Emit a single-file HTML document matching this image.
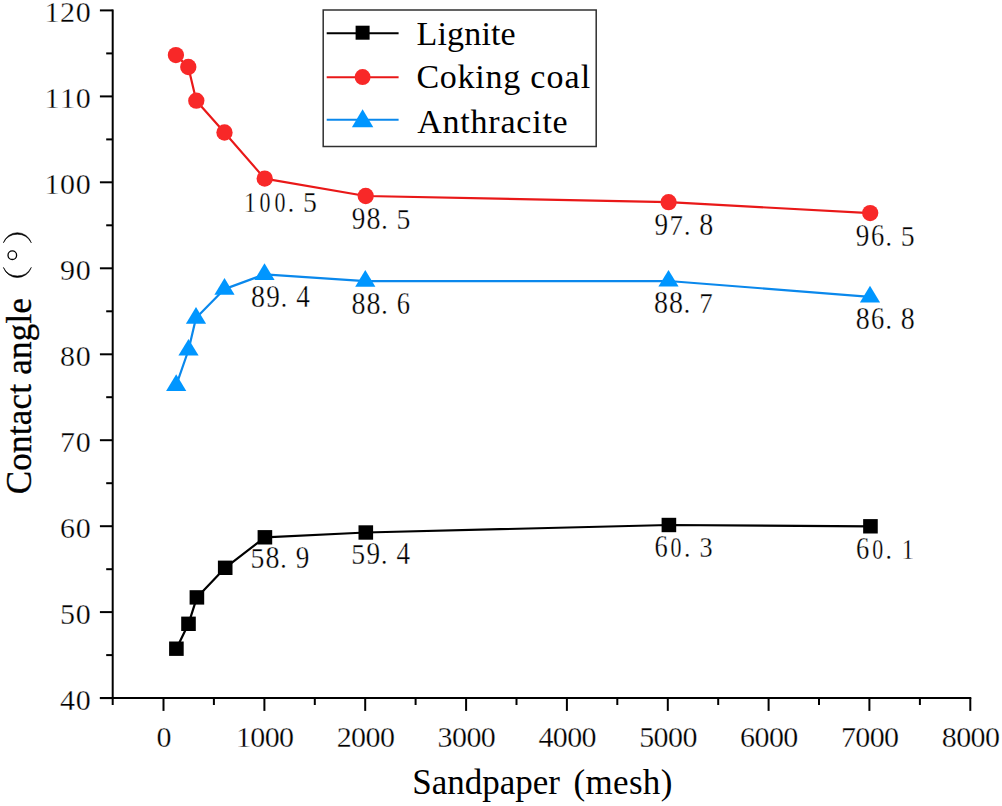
<!DOCTYPE html>
<html><head><meta charset="utf-8"><title>Contact angle vs sandpaper mesh</title>
<style>
html,body{margin:0;padding:0;background:#fff;}
body{width:1002px;height:806px;overflow:hidden;}
svg{display:block;}
text{font-family:"Liberation Serif",serif;fill:#000;font-kerning:none;}
.tick{font-size:30px;stroke:#fff;stroke-width:0.3px;}
.lab{font-size:30.5px;stroke:#fff;stroke-width:0.3px;}
.leg{font-size:34px;}
.ttl{font-size:35px;}
</style></head><body>
<svg width="1002" height="806" viewBox="0 0 1002 806">
<rect x="0" y="0" width="1002" height="806" fill="#fff"/>
<g stroke="#000" stroke-width="2" fill="none" stroke-linecap="butt">
<line x1="112.7" y1="9.4" x2="112.7" y2="705.0"/>
<line x1="99.9" y1="698.1" x2="971.3" y2="698.1"/>
<line x1="163.5" y1="698.1" x2="163.5" y2="710.9"/>
<line x1="213.9" y1="698.1" x2="213.9" y2="705.0"/>
<line x1="264.4" y1="698.1" x2="264.4" y2="710.9"/>
<line x1="314.8" y1="698.1" x2="314.8" y2="705.0"/>
<line x1="365.2" y1="698.1" x2="365.2" y2="710.9"/>
<line x1="415.6" y1="698.1" x2="415.6" y2="705.0"/>
<line x1="466.1" y1="698.1" x2="466.1" y2="710.9"/>
<line x1="516.5" y1="698.1" x2="516.5" y2="705.0"/>
<line x1="566.9" y1="698.1" x2="566.9" y2="710.9"/>
<line x1="617.3" y1="698.1" x2="617.3" y2="705.0"/>
<line x1="667.8" y1="698.1" x2="667.8" y2="710.9"/>
<line x1="718.2" y1="698.1" x2="718.2" y2="705.0"/>
<line x1="768.6" y1="698.1" x2="768.6" y2="710.9"/>
<line x1="819.0" y1="698.1" x2="819.0" y2="705.0"/>
<line x1="869.4" y1="698.1" x2="869.4" y2="710.9"/>
<line x1="919.9" y1="698.1" x2="919.9" y2="705.0"/>
<line x1="970.3" y1="698.1" x2="970.3" y2="710.9"/>
<line x1="99.9" y1="698.1" x2="112.7" y2="698.1"/>
<line x1="106.2" y1="655.1" x2="112.7" y2="655.1"/>
<line x1="99.9" y1="612.1" x2="112.7" y2="612.1"/>
<line x1="106.2" y1="569.2" x2="112.7" y2="569.2"/>
<line x1="99.9" y1="526.2" x2="112.7" y2="526.2"/>
<line x1="106.2" y1="483.2" x2="112.7" y2="483.2"/>
<line x1="99.9" y1="440.2" x2="112.7" y2="440.2"/>
<line x1="106.2" y1="397.2" x2="112.7" y2="397.2"/>
<line x1="99.9" y1="354.3" x2="112.7" y2="354.3"/>
<line x1="106.2" y1="311.3" x2="112.7" y2="311.3"/>
<line x1="99.9" y1="268.3" x2="112.7" y2="268.3"/>
<line x1="106.2" y1="225.3" x2="112.7" y2="225.3"/>
<line x1="99.9" y1="182.3" x2="112.7" y2="182.3"/>
<line x1="106.2" y1="139.4" x2="112.7" y2="139.4"/>
<line x1="99.9" y1="96.4" x2="112.7" y2="96.4"/>
<line x1="106.2" y1="53.4" x2="112.7" y2="53.4"/>
<line x1="99.9" y1="10.4" x2="112.7" y2="10.4"/>
</g>
<g class="tick" text-anchor="middle">
<text x="163.8" y="747" letter-spacing="-0.6">0</text>
<text x="264.7" y="747" letter-spacing="-0.6">1000</text>
<text x="365.5" y="747" letter-spacing="-0.6">2000</text>
<text x="466.4" y="747" letter-spacing="-0.6">3000</text>
<text x="567.2" y="747" letter-spacing="-0.6">4000</text>
<text x="668.0" y="747" letter-spacing="-0.6">5000</text>
<text x="768.9" y="747" letter-spacing="-0.6">6000</text>
<text x="869.7" y="747" letter-spacing="-0.6">7000</text>
<text x="970.6" y="747" letter-spacing="-0.6">8000</text>
</g>
<g class="tick" text-anchor="end">
<text x="91.3" y="710.0" letter-spacing="0.6">40</text>
<text x="91.3" y="624.0" letter-spacing="0.6">50</text>
<text x="91.3" y="538.1" letter-spacing="0.6">60</text>
<text x="91.3" y="452.1" letter-spacing="0.6">70</text>
<text x="91.3" y="366.2" letter-spacing="0.6">80</text>
<text x="91.3" y="280.2" letter-spacing="0.6">90</text>
<text x="91.3" y="194.2" letter-spacing="0.6">100</text>
<text x="91.3" y="108.3" letter-spacing="0.6">110</text>
<text x="91.3" y="22.3" letter-spacing="0.6">120</text>
</g>
<text class="ttl" x="412.2" y="794" letter-spacing="0.0">Sandpaper</text>
<text class="ttl" x="573.6" y="794" letter-spacing="0.3">(mesh)</text>
<text class="ttl" transform="translate(31.3,494.3) rotate(-90)" x="0" y="0" letter-spacing="0.25" stroke="#000" stroke-width="0.35">Contact angle</text>
<g fill="#000" stroke="#000" stroke-width="0.6" stroke-linejoin="round">
<path d="M3.4,267.4 A14.7,14.7 0 0 0 31.3,267.4 A15.6,15.6 0 0 1 3.4,267.4 Z"/>
<path d="M3.4,242.8 A14.7,14.7 0 0 1 31.3,242.8 A15.6,15.6 0 0 0 3.4,242.8 Z"/>
</g>
<circle cx="12.3" cy="255.2" r="4.3" fill="none" stroke="#000" stroke-width="1.3"/>
<polyline fill="none" stroke="#000000" stroke-width="2.2" stroke-linejoin="round" points="176.4,648.7 188.5,623.8 196.9,597.4 225.2,567.8 264.9,537.3 365.8,532.5 668.9,525.0 870.5,526.3"/>
<rect x="169.10" y="641.50" width="14.6" height="14.4" fill="#000000"/>
<rect x="181.20" y="616.60" width="14.6" height="14.4" fill="#000000"/>
<rect x="189.60" y="590.20" width="14.6" height="14.4" fill="#000000"/>
<rect x="217.90" y="560.60" width="14.6" height="14.4" fill="#000000"/>
<rect x="257.60" y="530.10" width="14.6" height="14.4" fill="#000000"/>
<rect x="358.50" y="525.30" width="14.6" height="14.4" fill="#000000"/>
<rect x="661.60" y="517.80" width="14.6" height="14.4" fill="#000000"/>
<rect x="863.15" y="519.10" width="14.6" height="14.4" fill="#000000"/>
<polyline fill="none" stroke="#e91818" stroke-width="2.2" stroke-linejoin="round" points="175.9,55.1 188.3,67.0 196.3,100.7 224.5,132.5 264.7,178.6 365.7,196.0 668.6,202.2 870.2,213.1"/>
<circle cx="175.9" cy="55.1" r="8.15" fill="#f82828"/>
<circle cx="188.3" cy="67.0" r="8.15" fill="#f82828"/>
<circle cx="196.3" cy="100.7" r="8.15" fill="#f82828"/>
<circle cx="224.5" cy="132.5" r="8.15" fill="#f82828"/>
<circle cx="264.7" cy="178.6" r="8.15" fill="#f82828"/>
<circle cx="365.7" cy="196.0" r="8.15" fill="#f82828"/>
<circle cx="668.6" cy="202.2" r="8.15" fill="#f82828"/>
<circle cx="870.2" cy="213.1" r="8.15" fill="#f82828"/>
<polyline fill="none" stroke="#0a88ec" stroke-width="2.2" stroke-linejoin="round" points="176.2,385.3 188.5,350.0 196.0,318.1 224.5,289.1 264.5,274.4 365.3,281.2 668.5,281.0 870.0,296.8"/>
<polygon points="176.2,374.2 186.3,390.9 166.1,390.9" fill="#0096ff"/>
<polygon points="188.5,338.9 198.6,355.6 178.4,355.6" fill="#0096ff"/>
<polygon points="196.0,307.0 206.1,323.7 185.9,323.7" fill="#0096ff"/>
<polygon points="224.5,278.0 234.6,294.7 214.4,294.7" fill="#0096ff"/>
<polygon points="264.5,263.3 274.6,280.0 254.4,280.0" fill="#0096ff"/>
<polygon points="365.3,270.1 375.4,286.8 355.2,286.8" fill="#0096ff"/>
<polygon points="668.5,269.9 678.6,286.6 658.4,286.6" fill="#0096ff"/>
<polygon points="870.0,285.7 880.1,302.4 859.9,302.4" fill="#0096ff"/>
<g class="lab">
<text text-anchor="middle" transform="translate(249.90,211.7) scale(0.79,1)" x="0" y="0">1</text>
<text text-anchor="middle" transform="translate(264.90,211.7) scale(0.72,1)" x="0" y="0">0</text>
<text text-anchor="middle" transform="translate(279.90,211.7) scale(0.72,1)" x="0" y="0">0</text>
<text transform="translate(287.70,211.7) scale(0.84,0.88)" x="0" y="0">.</text>
<text text-anchor="middle" transform="translate(309.90,211.7) scale(0.91,1)" x="0" y="0">5</text>
</g>
<g class="lab">
<text text-anchor="middle" transform="translate(358.50,228.6) scale(0.89,1)" x="0" y="0">9</text>
<text text-anchor="middle" transform="translate(373.50,228.6) scale(0.92,1)" x="0" y="0">8</text>
<text transform="translate(381.30,228.6) scale(0.84,0.88)" x="0" y="0">.</text>
<text text-anchor="middle" transform="translate(403.50,228.6) scale(0.91,1)" x="0" y="0">5</text>
</g>
<g class="lab">
<text text-anchor="middle" transform="translate(661.20,234.7) scale(0.89,1)" x="0" y="0">9</text>
<text text-anchor="middle" transform="translate(676.20,234.7) scale(0.88,1)" x="0" y="0">7</text>
<text transform="translate(684.00,234.7) scale(0.84,0.88)" x="0" y="0">.</text>
<text text-anchor="middle" transform="translate(706.20,234.7) scale(0.92,1)" x="0" y="0">8</text>
</g>
<g class="lab">
<text text-anchor="middle" transform="translate(862.60,245.8) scale(0.89,1)" x="0" y="0">9</text>
<text text-anchor="middle" transform="translate(877.60,245.8) scale(0.87,1)" x="0" y="0">6</text>
<text transform="translate(885.40,245.8) scale(0.84,0.88)" x="0" y="0">.</text>
<text text-anchor="middle" transform="translate(907.60,245.8) scale(0.91,1)" x="0" y="0">5</text>
</g>
<g class="lab">
<text text-anchor="middle" transform="translate(258.00,306.6) scale(0.92,1)" x="0" y="0">8</text>
<text text-anchor="middle" transform="translate(273.00,306.6) scale(0.89,1)" x="0" y="0">9</text>
<text transform="translate(280.80,306.6) scale(0.84,0.88)" x="0" y="0">.</text>
<text text-anchor="middle" transform="translate(303.00,306.6) scale(0.89,1)" x="0" y="0">4</text>
</g>
<g class="lab">
<text text-anchor="middle" transform="translate(358.50,313.9) scale(0.92,1)" x="0" y="0">8</text>
<text text-anchor="middle" transform="translate(373.50,313.9) scale(0.92,1)" x="0" y="0">8</text>
<text transform="translate(381.30,313.9) scale(0.84,0.88)" x="0" y="0">.</text>
<text text-anchor="middle" transform="translate(403.50,313.9) scale(0.87,1)" x="0" y="0">6</text>
</g>
<g class="lab">
<text text-anchor="middle" transform="translate(661.00,312.8) scale(0.92,1)" x="0" y="0">8</text>
<text text-anchor="middle" transform="translate(676.00,312.8) scale(0.92,1)" x="0" y="0">8</text>
<text transform="translate(683.80,312.8) scale(0.84,0.88)" x="0" y="0">.</text>
<text text-anchor="middle" transform="translate(706.00,312.8) scale(0.88,1)" x="0" y="0">7</text>
</g>
<g class="lab">
<text text-anchor="middle" transform="translate(862.70,328.5) scale(0.92,1)" x="0" y="0">8</text>
<text text-anchor="middle" transform="translate(877.70,328.5) scale(0.87,1)" x="0" y="0">6</text>
<text transform="translate(885.50,328.5) scale(0.84,0.88)" x="0" y="0">.</text>
<text text-anchor="middle" transform="translate(907.70,328.5) scale(0.92,1)" x="0" y="0">8</text>
</g>
<g class="lab">
<text text-anchor="middle" transform="translate(257.50,567.8) scale(0.91,1)" x="0" y="0">5</text>
<text text-anchor="middle" transform="translate(272.50,567.8) scale(0.92,1)" x="0" y="0">8</text>
<text transform="translate(280.30,567.8) scale(0.84,0.88)" x="0" y="0">.</text>
<text text-anchor="middle" transform="translate(302.50,567.8) scale(0.89,1)" x="0" y="0">9</text>
</g>
<g class="lab">
<text text-anchor="middle" transform="translate(358.30,563.5) scale(0.91,1)" x="0" y="0">5</text>
<text text-anchor="middle" transform="translate(373.30,563.5) scale(0.89,1)" x="0" y="0">9</text>
<text transform="translate(381.10,563.5) scale(0.84,0.88)" x="0" y="0">.</text>
<text text-anchor="middle" transform="translate(403.30,563.5) scale(0.89,1)" x="0" y="0">4</text>
</g>
<g class="lab">
<text text-anchor="middle" transform="translate(661.10,556.8) scale(0.87,1)" x="0" y="0">6</text>
<text text-anchor="middle" transform="translate(676.10,556.8) scale(0.72,1)" x="0" y="0">0</text>
<text transform="translate(683.90,556.8) scale(0.84,0.88)" x="0" y="0">.</text>
<text text-anchor="middle" transform="translate(706.10,556.8) scale(0.86,1)" x="0" y="0">3</text>
</g>
<g class="lab">
<text text-anchor="middle" transform="translate(862.70,558.6) scale(0.87,1)" x="0" y="0">6</text>
<text text-anchor="middle" transform="translate(877.70,558.6) scale(0.72,1)" x="0" y="0">0</text>
<text transform="translate(885.50,558.6) scale(0.84,0.88)" x="0" y="0">.</text>
<text text-anchor="middle" transform="translate(907.70,558.6) scale(0.79,1)" x="0" y="0">1</text>
</g>
<rect x="323.2" y="10.0" width="273.0" height="136.5" fill="#fff" stroke="#303030" stroke-width="1.5"/>
<line x1="326.7" y1="33.3" x2="398.6" y2="33.3" stroke="#000000" stroke-width="2"/>
<rect x="355.6" y="25.7" width="14" height="14" fill="#000000"/>
<line x1="326.7" y1="77.2" x2="398.6" y2="77.2" stroke="#e91818" stroke-width="2"/>
<circle cx="362.6" cy="77.1" r="8.0" fill="#f82828"/>
<line x1="326.7" y1="119.8" x2="398.6" y2="119.8" stroke="#0a88ec" stroke-width="2"/>
<polygon points="362.6,109.3 373.3,127.2 351.9,127.2" fill="#0096ff"/>
<text class="leg" x="416.6" y="45.3" letter-spacing="0.15">Lignite</text>
<text class="leg" x="416.4" y="87.9" letter-spacing="0.75">Coking</text>
<text class="leg" x="530.3" y="87.9" letter-spacing="1.1">coal</text>
<text class="leg" x="417.2" y="132.5" letter-spacing="0.78">Anthracite</text>
</svg>
</body></html>
